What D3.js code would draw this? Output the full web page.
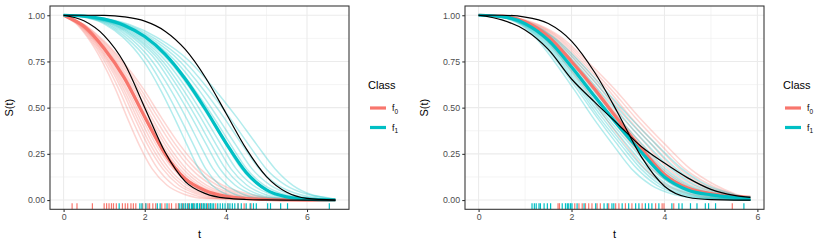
<!DOCTYPE html>
<html><head><meta charset="utf-8">
<script src="https://cdn.jsdelivr.net/npm/d3@7"></script>
<style>
body{margin:0;background:#fff}
svg{display:block}
text{font-family:"Liberation Sans",Arial,Helvetica,sans-serif}
</style>
</head><body>
<svg id="chart" width="830" height="249"></svg>
<script>
// ---------------- DATA ----------------
const classNames = ["f0", "f1"];
const classColors = ["#F8766D", "#00BFC4"];
const legendTitle = "Class";
const xTickValues = [0, 2, 4, 6];
const yTickValues = [0, 0.25, 0.5, 0.75, 1];
const yTickLabels = ["0.00", "0.25", "0.50", "0.75", "1.00"];

// Left panel: time grid, true curves (black), mean curves (thick)
const leftTimes = [0, 0.5, 1, 1.5, 2, 2.5, 3, 3.5, 4, 4.5, 5, 5.5, 6, 6.7];
const leftTrueF0 = [1, 0.97, 0.89, 0.74, 0.5, 0.26, 0.10, 0.035, 0.01, 0.003, 0.001, 0, 0, 0];
const leftTrueF1 = [1, 1, 0.999, 0.991, 0.968, 0.914, 0.815, 0.662, 0.471, 0.278, 0.127, 0.042, 0.009, 0];
const leftMeanF0 = [1, 0.94, 0.82, 0.66, 0.45, 0.25, 0.115, 0.05, 0.02, 0.008, 0.003, 0.001, 0, 0];
const leftMeanF1 = [1, 0.996, 0.979, 0.945, 0.885, 0.79, 0.655, 0.49, 0.31, 0.15, 0.055, 0.017, 0.005, 0.001];

// Right panel
const rightTimes = [0, 0.5, 1, 1.5, 2, 2.5, 3, 3.5, 4, 4.5, 5, 5.5, 5.85];
const rightTrueA = [1, 1, 0.99, 0.955, 0.86, 0.69, 0.47, 0.235, 0.075, 0.015, 0.002, 0, 0];
const rightTrueB = [1, 0.975, 0.92, 0.815, 0.655, 0.53, 0.41, 0.29, 0.20, 0.12, 0.058, 0.025, 0.014];
const rightMeanF0 = [1, 0.995, 0.965, 0.885, 0.75, 0.6, 0.435, 0.28, 0.14, 0.065, 0.035, 0.02, 0.014];
const rightMeanF1 = [1, 0.993, 0.955, 0.865, 0.72, 0.56, 0.405, 0.26, 0.125, 0.055, 0.028, 0.015, 0.01];

// Thin posterior curves: times at which each curve reaches these survival levels
const thinLevels = [1, 0.99, 0.95, 0.88, 0.75, 0.6, 0.45, 0.3, 0.17, 0.08, 0.03, 0.008];

const leftThinF0 = [
  [0, 0.06, 0.33, 0.59, 0.95, 1.28, 1.56, 1.86, 2.18, 2.55, 2.99, 3.51],
  [0, 0.07, 0.35, 0.62, 1.01, 1.36, 1.66, 1.98, 2.32, 2.71, 3.18, 3.74],
  [0, 0.07, 0.37, 0.65, 1.06, 1.43, 1.74, 2.07, 2.44, 2.84, 3.33, 3.92],
  [0, 0.07, 0.38, 0.68, 1.10, 1.48, 1.80, 2.14, 2.52, 2.94, 3.45, 4.05],
  [0, 0.07, 0.39, 0.70, 1.13, 1.53, 1.86, 2.21, 2.60, 3.04, 3.56, 4.19],
  [0, 0.08, 0.40, 0.72, 1.17, 1.57, 1.92, 2.28, 2.69, 3.14, 3.68, 4.32],
  [0, 0.08, 0.42, 0.74, 1.21, 1.62, 1.98, 2.36, 2.77, 3.24, 3.79, 4.46],
  [0, 0.08, 0.43, 0.77, 1.24, 1.67, 2.04, 2.43, 2.86, 3.34, 3.91, 4.59],
  [0, 0.08, 0.44, 0.79, 1.28, 1.72, 2.10, 2.50, 2.94, 3.43, 4.02, 4.73],
  [0, 0.09, 0.45, 0.81, 1.32, 1.77, 2.16, 2.57, 3.02, 3.53, 4.14, 4.86],
  [0, 0.09, 0.47, 0.84, 1.37, 1.84, 2.24, 2.67, 3.14, 3.66, 4.29, 5.04],
  [0, 0.09, 0.49, 0.87, 1.42, 1.90, 2.32, 2.76, 3.25, 3.79, 4.44, 5.22],
  [0, 0.10, 0.50, 0.90, 1.46, 1.97, 2.40, 2.86, 3.36, 3.92, 4.60, 5.40]
];
const leftThinF1 = [
  [0, 0.48, 1.03, 1.47, 1.98, 2.38, 2.72, 3.04, 3.33, 3.66, 4.02, 4.45],
  [0, 0.50, 1.09, 1.54, 2.09, 2.50, 2.86, 3.20, 3.50, 3.85, 4.23, 4.69],
  [0, 0.53, 1.14, 1.62, 2.19, 2.63, 3.01, 3.36, 3.68, 4.04, 4.44, 4.92],
  [0, 0.55, 1.20, 1.70, 2.30, 2.75, 3.15, 3.52, 3.85, 4.23, 4.66, 5.16],
  [0, 0.57, 1.24, 1.76, 2.38, 2.85, 3.26, 3.64, 3.99, 4.38, 4.81, 5.33],
  [0, 0.59, 1.28, 1.81, 2.45, 2.94, 3.37, 3.76, 4.12, 4.52, 4.97, 5.51],
  [0, 0.61, 1.32, 1.87, 2.53, 3.04, 3.47, 3.88, 4.25, 4.67, 5.13, 5.68],
  [0, 0.63, 1.36, 1.93, 2.61, 3.13, 3.58, 4.00, 4.38, 4.81, 5.29, 5.86],
  [0, 0.65, 1.40, 1.99, 2.69, 3.22, 3.69, 4.12, 4.51, 4.95, 5.45, 6.04],
  [0, 0.67, 1.44, 2.05, 2.77, 3.32, 3.79, 4.24, 4.64, 5.10, 5.61, 6.21],
  [0, 0.69, 1.50, 2.12, 2.87, 3.44, 3.94, 4.40, 4.82, 5.29, 5.82, 6.45],
  [0, 0.72, 1.55, 2.20, 2.98, 3.57, 4.08, 4.56, 4.99, 5.48, 6.03, 6.60],
  [0, 0.75, 1.62, 2.30, 3.11, 3.72, 4.26, 4.76, 5.21, 5.65, 6.10, 6.55]
];
const rightThinF0 = [
  [0, 0.53, 1.00, 1.40, 1.84, 2.30, 2.71, 3.16, 3.58, 4.05, 4.60, 5.11],
  [0, 0.56, 1.05, 1.46, 1.92, 2.40, 2.83, 3.30, 3.73, 4.22, 4.80, 5.33],
  [0, 0.57, 1.08, 1.50, 1.98, 2.48, 2.92, 3.41, 3.85, 4.36, 4.95, 5.49],
  [0, 0.59, 1.11, 1.55, 2.04, 2.55, 3.01, 3.51, 3.97, 4.49, 5.10, 5.66],
  [0, 0.61, 1.14, 1.60, 2.10, 2.63, 3.10, 3.61, 4.08, 4.62, 5.25, 5.78],
  [0, 0.63, 1.18, 1.64, 2.16, 2.70, 3.19, 3.72, 4.20, 4.75, 5.35, 5.80],
  [0, 0.64, 1.21, 1.69, 2.22, 2.78, 3.27, 3.82, 4.32, 4.88, 5.45, 5.82],
  [0, 0.66, 1.24, 1.73, 2.28, 2.85, 3.36, 3.92, 4.43, 5.00, 5.50, 5.83],
  [0, 0.68, 1.28, 1.78, 2.34, 2.93, 3.45, 4.02, 4.55, 5.10, 5.55, 5.84]
];
const rightThinF1 = [
  [0, 0.46, 0.89, 1.22, 1.63, 2.05, 2.45, 2.89, 3.29, 3.72, 4.21, 4.73],
  [0, 0.48, 0.92, 1.26, 1.69, 2.12, 2.54, 2.99, 3.41, 3.84, 4.36, 4.90],
  [0, 0.49, 0.94, 1.29, 1.73, 2.17, 2.59, 3.06, 3.49, 3.93, 4.46, 5.01],
  [0, 0.50, 0.96, 1.32, 1.77, 2.21, 2.65, 3.12, 3.56, 4.02, 4.56, 5.12],
  [0, 0.51, 0.98, 1.35, 1.81, 2.26, 2.71, 3.19, 3.64, 4.10, 4.66, 5.23],
  [0, 0.52, 1.00, 1.38, 1.84, 2.31, 2.76, 3.26, 3.72, 4.19, 4.75, 5.34],
  [0, 0.53, 1.02, 1.41, 1.88, 2.36, 2.82, 3.33, 3.79, 4.28, 4.85, 5.45],
  [0, 0.55, 1.04, 1.43, 1.92, 2.40, 2.88, 3.39, 3.87, 4.36, 4.95, 5.55],
  [0, 0.56, 1.06, 1.46, 1.96, 2.45, 2.94, 3.46, 3.94, 4.45, 5.05, 5.62],
  [0, 0.57, 1.08, 1.49, 2.00, 2.50, 2.99, 3.53, 4.02, 4.54, 5.15, 5.70],
  [0, 0.58, 1.11, 1.53, 2.05, 2.57, 3.08, 3.63, 4.14, 4.67, 5.30, 5.75],
  [0, 0.60, 1.14, 1.58, 2.11, 2.64, 3.16, 3.73, 4.25, 4.80, 5.40, 5.78],
  [0, 0.62, 1.17, 1.62, 2.17, 2.71, 3.25, 3.83, 4.37, 4.92, 5.50, 5.80]
];

// Rug: observed event times per class
const leftRugF0 = [0.21, 0.33, 0.71, 1.0, 1.06, 1.12, 1.18, 1.23, 1.3, 1.45, 1.52, 1.58, 1.66, 1.72, 1.78, 1.95, 2.02, 2.08, 2.12, 2.2, 2.27, 2.42, 2.5, 2.6, 2.66, 2.77, 2.83, 2.93, 3.0, 3.08, 3.2, 3.3, 3.38, 3.45, 3.55, 3.62, 3.75, 4.05, 4.3, 4.45, 4.62];
const leftRugF1 = [1.37, 1.88, 1.93, 2.03, 2.31, 2.38, 2.55, 2.85, 2.9, 2.95, 3.0, 3.05, 3.1, 3.15, 3.18, 3.22, 3.27, 3.3, 3.35, 3.4, 3.44, 3.48, 3.52, 3.58, 3.62, 3.66, 3.7, 3.8, 3.86, 3.92, 3.98, 4.05, 4.1, 4.16, 4.22, 4.3, 4.38, 4.5, 4.6, 4.68, 4.75, 5.03, 5.1, 5.35, 5.52, 6.55];
const rightRugF0 = [1.71, 1.74, 2.07, 2.16, 2.23, 2.3, 2.37, 2.44, 2.55, 2.62, 2.8, 2.95, 3.02, 3.16, 3.3, 3.52, 3.81, 3.95, 3.99, 4.2, 5.46];
const rightRugF1 = [1.15, 1.2, 1.24, 1.3, 1.33, 1.41, 1.48, 1.55, 1.8, 1.87, 1.91, 1.94, 1.98, 2.01, 2.12, 2.27, 2.52, 2.7, 2.77, 2.87, 2.91, 3.09, 3.23, 3.38, 3.45, 3.59, 3.66, 3.73, 3.88, 4.16, 4.31, 4.38, 4.56, 4.7, 4.88, 4.95, 5.1, 5.71];

// ---------------- DRAWING ----------------
const svg = d3.select("#chart");
const P = {left: 50, right: 349, top: 6, bottom: 209.3};

const panels = [
  {ox: 0, tMax: 6.7, times: leftTimes, truth: [leftTrueF0, leftTrueF1], means: [leftMeanF0, leftMeanF1],
   thin: [leftThinF0, leftThinF1], rug: [leftRugF0, leftRugF1]},
  {ox: 415, tMax: 5.85, times: rightTimes, truth: [rightTrueA, rightTrueB], means: [rightMeanF0, rightMeanF1],
   thin: [rightThinF0, rightThinF1], rug: [rightRugF0, rightRugF1]}
];

panels.forEach(p => {
  const g = svg.append("g");
  const x = d3.scaleLinear().domain([-0.05 * p.tMax, 1.05 * p.tMax]).range([p.ox + P.left, p.ox + P.right]);
  const y = d3.scaleLinear().domain([-0.05, 1.05]).range([P.bottom, P.top]);
  const line = d3.line().x(d => x(d[0])).y(d => y(d[1])).curve(d3.curveMonotoneX);

  g.append("rect").attr("x", x.range()[0]).attr("y", P.top)
    .attr("width", P.right - P.left).attr("height", P.bottom - P.top).attr("fill", "#fff");

  const xMinor = [1, 3, 5].filter(v => v <= 1.05 * p.tMax);
  const yMinor = [0.125, 0.375, 0.625, 0.875];
  g.selectAll(".xmin").data(xMinor).join("line")
    .attr("x1", d => x(d)).attr("x2", d => x(d)).attr("y1", P.top).attr("y2", P.bottom)
    .attr("stroke", "#EBEBEB").attr("stroke-width", 0.55);
  g.selectAll(".ymin").data(yMinor).join("line")
    .attr("x1", x.range()[0]).attr("x2", x.range()[1]).attr("y1", d => y(d)).attr("y2", d => y(d))
    .attr("stroke", "#EBEBEB").attr("stroke-width", 0.55);
  g.selectAll(".xmaj").data(xTickValues).join("line")
    .attr("x1", d => x(d)).attr("x2", d => x(d)).attr("y1", P.top).attr("y2", P.bottom)
    .attr("stroke", "#EBEBEB").attr("stroke-width", 1.07);
  g.selectAll(".ymaj").data(yTickValues).join("line")
    .attr("x1", x.range()[0]).attr("x2", x.range()[1]).attr("y1", d => y(d)).attr("y2", d => y(d))
    .attr("stroke", "#EBEBEB").attr("stroke-width", 1.07);

  // thin posterior curves
  p.thin.forEach((curves, ci) => {
    curves.forEach(ts => {
      const pts = ts.map((t, i) => [t, thinLevels[i]]);
      pts.push([p.tMax, 0]);
      g.append("path").attr("d", line(pts)).attr("fill", "none")
        .attr("stroke", classColors[ci]).attr("stroke-opacity", 0.3).attr("stroke-width", 1.5);
    });
  });

  // mean curves
  p.means.forEach((vals, ci) => {
    g.append("path").attr("d", line(p.times.map((t, i) => [t, vals[i]])))
      .attr("fill", "none").attr("stroke", classColors[ci]).attr("stroke-width", 3.2);
  });

  // true curves
  p.truth.forEach(vals => {
    g.append("path").attr("d", line(p.times.map((t, i) => [t, vals[i]])))
      .attr("fill", "none").attr("stroke", "#000").attr("stroke-width", 1.2);
  });

  // rug
  const rugLen = 0.03 * (P.bottom - P.top);
  p.rug.forEach((vals, ci) => {
    g.selectAll(null).data(vals).join("line")
      .attr("x1", d => x(d)).attr("x2", d => x(d)).attr("y1", P.bottom - rugLen).attr("y2", P.bottom)
      .attr("stroke", classColors[ci]).attr("stroke-width", 1.2);
  });

  g.append("rect").attr("x", x.range()[0]).attr("y", P.top)
    .attr("width", P.right - P.left).attr("height", P.bottom - P.top)
    .attr("fill", "none").attr("stroke", "#333333").attr("stroke-width", 1.07);

  const xAxis = d3.axisBottom(x).tickValues(xTickValues).tickSize(2.75).tickPadding(2.2).tickFormat(d3.format("d"));
  const gx = g.append("g").attr("transform", `translate(0,${P.bottom})`).call(xAxis);
  const yAxis = d3.axisLeft(y).tickValues(yTickValues).tickSize(2.75).tickPadding(2.2)
    .tickFormat((d, i) => yTickLabels[i]);
  const gy = g.append("g").attr("transform", `translate(${x.range()[0]},0)`).call(yAxis);
  [gx, gy].forEach(a => {
    a.select(".domain").remove();
    a.selectAll(".tick line").attr("stroke", "#333333").attr("stroke-width", 1.07);
    a.selectAll(".tick text").attr("fill", "#4D4D4D").attr("font-size", "8.8px")
      .style("font-family", '"Liberation Sans",Arial,sans-serif');
  });

  g.append("text").attr("x", (x.range()[0] + x.range()[1]) / 2).attr("y", 237.5)
    .attr("text-anchor", "middle").attr("font-size", "11px").attr("fill", "#000").text("t");
  g.append("text").attr("transform", `translate(${p.ox + 13.2},${(P.top + P.bottom) / 2}) rotate(-90)`)
    .attr("text-anchor", "middle").attr("font-size", "11px").attr("fill", "#000").text("S(t)");

  const lg = g.append("g").attr("transform", `translate(${p.ox + 368},0)`);
  lg.append("text").attr("x", 0).attr("y", 89).attr("font-size", "11px").attr("fill", "#000").text(legendTitle);
  classNames.forEach((name, i) => {
    const cy = 108 + i * 19.5;
    lg.append("line").attr("x1", 2).attr("x2", 18).attr("y1", cy).attr("y2", cy)
      .attr("stroke", classColors[i]).attr("stroke-width", 3.2);
    const t = lg.append("text").attr("x", 24).attr("y", cy + 3).attr("font-size", "8.8px").attr("fill", "#000");
    t.append("tspan").text(name.charAt(0));
    t.append("tspan").attr("dy", 2.5).attr("font-size", "6.5px").text(name.slice(1));
  });
});
</script>
</body></html>
